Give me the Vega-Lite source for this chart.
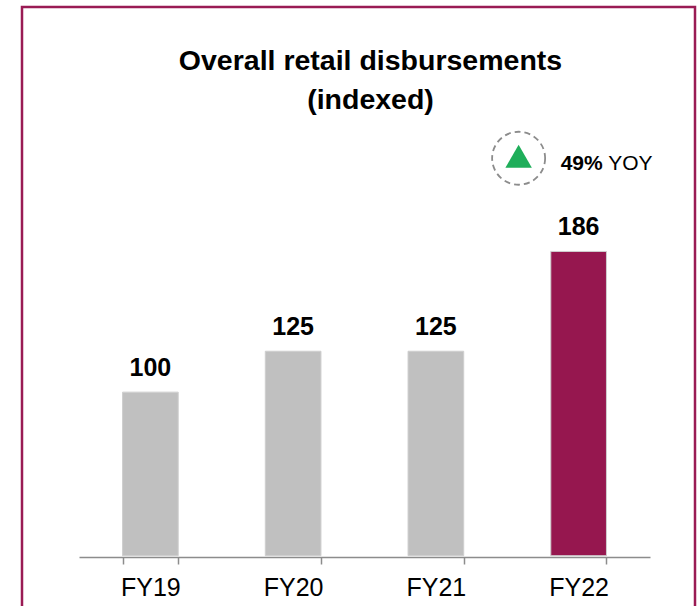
{
  "$schema": "https://vega.github.io/schema/vega-lite/v6.json",
  "width": 673,
  "height": 601,
  "autosize": {"type": "none"},
  "padding": {"left": 22, "top": 7, "right": 2, "bottom": -2},
  "background": "white",
  "config": {
    "view": {"stroke": "#9a1b54", "strokeWidth": 2.5},
    "font": "Liberation Sans",
    "text": {"font": "Liberation Sans", "color": "#000000"}
  },
  "title": {
    "text": ["Overall retail disbursements", "(indexed)"],
    "fontSize": 28.5,
    "fontWeight": "bold",
    "color": "#000000",
    "font": "Liberation Sans",
    "anchor": "middle",
    "frame": "group",
    "baseline": "bottom",
    "offset": -136,
    "lineHeight": 39,
    "dx": 12
  },
  "datasets": {
    "bars": [
      {"fy": "FY19", "value": 100, "period": "prior"},
      {"fy": "FY20", "value": 125, "period": "prior"},
      {"fy": "FY21", "value": 125, "period": "prior"},
      {"fy": "FY22", "value": 186, "period": "current"}
    ],
    "note": [
      {"fy": "FY22", "pos": 243, "growth": "49%", "unit": "YOY"}
    ]
  },
  "encoding": {
    "x": {
      "field": "fy",
      "type": "nominal",
      "sort": ["FY19", "FY20", "FY21", "FY22"],
      "scale": {"range": [57, 628], "paddingInner": 0.61, "paddingOuter": 0.305},
      "axis": {
        "title": null,
        "orient": "bottom",
        "offset": -51,
        "labelAngle": 0,
        "labelFontSize": 25,
        "labelFont": "Liberation Sans",
        "labelColor": "#000000",
        "labelPadding": 11,
        "domainColor": "#8c8c8c",
        "domainWidth": 1.5,
        "tickColor": "#8c8c8c",
        "tickWidth": 1.5,
        "tickSize": 7,
        "tickBand": "extent",
        "grid": false
      }
    }
  },
  "layer": [
    {
      "data": {"name": "bars"},
      "mark": {"type": "bar", "stroke": "#cfcfcf", "strokeWidth": 1},
      "encoding": {
        "y": {
          "field": "value",
          "type": "quantitative",
          "scale": {"domain": [-0.8, 300], "range": [550, 58], "zero": false, "nice": false},
          "axis": null
        },
        "color": {
          "field": "period",
          "type": "nominal",
          "scale": {"domain": ["prior", "current"], "range": ["#c0c0c0", "#96174f"]},
          "legend": null
        }
      }
    },
    {
      "data": {"name": "bars"},
      "mark": {"type": "text", "fontWeight": "bold", "fontSize": 25, "baseline": "alphabetic", "dy": -16, "color": "#000000"},
      "encoding": {
        "y": {"field": "value", "type": "quantitative"},
        "text": {"field": "value", "type": "quantitative"}
      }
    },
    {
      "data": {"name": "note"},
      "mark": {"type": "point", "shape": "circle", "size": 2809, "filled": false, "stroke": "#8c8c8c", "strokeWidth": 1.8, "strokeDash": [6, 4], "opacity": 1, "xOffset": -60},
      "encoding": {
        "y": {"field": "pos", "type": "quantitative"}
      }
    },
    {
      "data": {"name": "note"},
      "mark": {"type": "point", "shape": "triangle-up", "size": 700, "filled": true, "color": "#1fae5a", "opacity": 1, "xOffset": -60, "yOffset": -2},
      "encoding": {
        "y": {"field": "pos", "type": "quantitative"}
      }
    },
    {
      "data": {"name": "note"},
      "mark": {"type": "text", "fontWeight": "bold", "fontSize": 21, "align": "left", "baseline": "alphabetic", "dx": -18, "dy": 12, "color": "#000000"},
      "encoding": {
        "y": {"field": "pos", "type": "quantitative"},
        "text": {"field": "growth", "type": "nominal"}
      }
    },
    {
      "data": {"name": "note"},
      "mark": {"type": "text", "fontWeight": "normal", "fontSize": 21, "align": "left", "baseline": "alphabetic", "dx": 29.5, "dy": 12, "color": "#000000"},
      "encoding": {
        "y": {"field": "pos", "type": "quantitative"},
        "text": {"field": "unit", "type": "nominal"}
      }
    }
  ]
}
